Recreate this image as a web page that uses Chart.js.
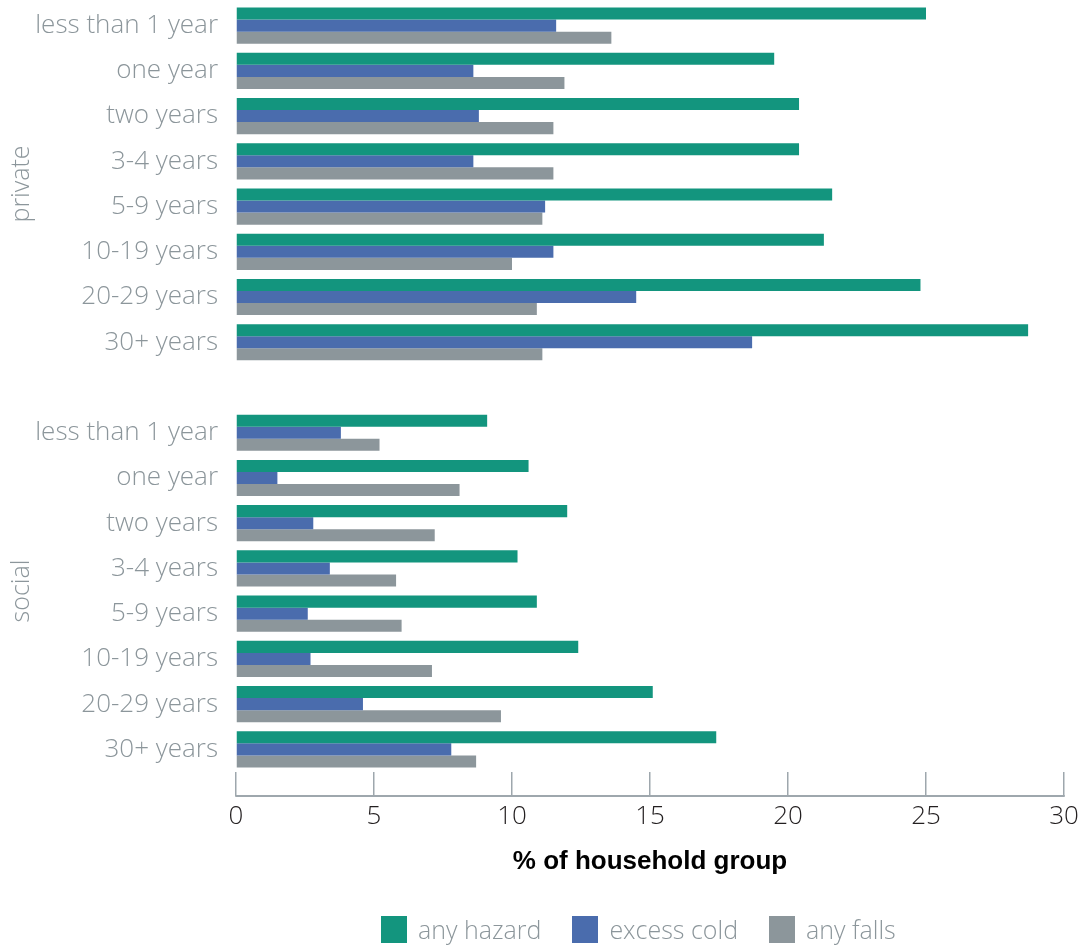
<!DOCTYPE html>
<html>
<head>
<meta charset="utf-8">
<script src="https://cdn.jsdelivr.net/npm/chart.js@4/dist/chart.umd.min.js"></script>
<style>
  html, body { margin: 0; padding: 0; background: #fff; }
  #wrap { position: relative; width: 1080px; height: 945px; }
  #legend {
    position: absolute; left: 381px; top: 912px;
    display: flex; align-items: center;
    font-family: 'Open Sans', Roboto, sans-serif; font-weight: 300;
    font-size: 25px; color: #8c969b;
  }
  #legend .item { display: flex; align-items: center; margin-right: 31px; }
  #legend .box { width: 26px; height: 27px; margin-right: 11px; }
</style>
</head>
<body>
<div id="wrap">
  <canvas id="chart" width="1080" height="945"></canvas>
  <div id="legend"></div>
</div>
<script>
const ageBands = ['less than 1 year', 'one year', 'two years', '3-4 years', '5-9 years', '10-19 years', '20-29 years', '30+ years'];
const groups = ['private', 'social'];

const privateHazard = [25.0, 19.5, 20.4, 20.4, 21.6, 21.3, 24.8, 28.7];
const privateCold = [11.6, 8.6, 8.8, 8.6, 11.2, 11.5, 14.5, 18.7];
const privateFalls = [13.6, 11.9, 11.5, 11.5, 11.1, 10.0, 10.9, 11.1];

const socialHazard = [9.1, 10.6, 12.0, 10.2, 10.9, 12.4, 15.1, 17.4];
const socialCold = [3.8, 1.5, 2.8, 3.4, 2.6, 2.7, 4.6, 7.8];
const socialFalls = [5.2, 8.1, 7.2, 5.8, 6.0, 7.1, 9.6, 8.7];

const xTicks = [0, 5, 10, 15, 20, 25, 30];
const seriesNames = ['any hazard', 'excess cold', 'any falls'];
const seriesColors = ['#13957e', '#4a6cad', '#8c969b'];

const labelGrey = '#8c969b';
const axisGrey = '#9ea7ad';
const fontFamily = "'Open Sans', Roboto, sans-serif";

// blank category between the two groups
const labels = [...ageBands, '', ...ageBands];
const joinGroups = (a, b) => [...a, null, ...b];

const datasets = [
  joinGroups(privateHazard, socialHazard),
  joinGroups(privateCold, socialCold),
  joinGroups(privateFalls, socialFalls),
].map((data, i) => ({
  label: seriesNames[i],
  data,
  backgroundColor: seriesColors[i],
  borderWidth: 0,
  categoryPercentage: 0.8,
  barPercentage: 1.0,
}));

// axis line under the tick marks + rotated group names
const extras = {
  id: 'extras',
  afterDraw(chart) {
    const { ctx, chartArea, scales } = chart;
    const x = scales.x;
    const y = scales.y;
    const tl = x.options.grid.tickLength;
    ctx.save();
    ctx.strokeStyle = axisGrey;
    ctx.lineWidth = 2;
    ctx.beginPath();
    ctx.moveTo(x.getPixelForValue(0) - 0.75, chartArea.bottom + tl);
    ctx.lineTo(x.getPixelForValue(30) + 0.75, chartArea.bottom + tl);
    ctx.stroke();

    ctx.fillStyle = labelGrey;
    ctx.font = `300 25px ${fontFamily}`;
    ctx.textAlign = 'center';
    ctx.textBaseline = 'middle';
    const n = ageBands.length;
    groups.forEach((g, gi) => {
      const first = gi * (n + 1);
      const mid = (y.getPixelForValue(first) + y.getPixelForValue(first + n - 1)) / 2;
      ctx.save();
      ctx.translate(22, mid);
      ctx.rotate(-Math.PI / 2);
      ctx.fillText(g, 0, 0);
      ctx.restore();
    });
    ctx.restore();
  },
};

new Chart(document.getElementById('chart'), {
  type: 'bar',
  data: { labels, datasets },
  options: {
    indexAxis: 'y',
    responsive: false,
    animation: false,
    devicePixelRatio: 1,
    layout: { padding: { top: 3, right: 16, bottom: 63, left: 0 } },
    plugins: {
      legend: { display: false },
      tooltip: { enabled: false },
    },
    scales: {
      x: {
        min: 0,
        max: 30,
        afterBuildTicks(scale) {
          scale.ticks = xTicks.map((v) => ({ value: v }));
        },
        afterFit(scale) {
          scale.height = 110;
          scale.paddingRight = 0;
          scale.paddingLeft = 0;
        },
        grid: {
          drawOnChartArea: false,
          drawTicks: true,
          tickLength: 24,
          color: axisGrey,
          lineWidth: 1.5,
        },
        border: { display: false },
        ticks: {
          color: '#231f20',
          padding: 5,
          font: { family: fontFamily, size: 26, weight: 300 },
        },
        title: {
          display: true,
          text: '% of household group',
          color: '#000',
          font: { family: "'Liberation Sans', Arial, sans-serif", size: 26, weight: 'bold' },
          padding: { top: 0, bottom: 5 },
        },
      },
      y: {
        afterFit(scale) {
          scale.width = 236;
          scale.paddingTop = 0;
          scale.paddingBottom = 0;
        },
        grid: { display: false, drawTicks: false },
        border: { display: false },
        ticks: {
          color: labelGrey,
          padding: 18,
          autoSkip: false,
          font: { family: fontFamily, size: 26, weight: 300 },
        },
      },
    },
  },
  plugins: [extras],
});

const legendEl = document.getElementById('legend');
legendEl.innerHTML = seriesNames.map((name, i) => `
  <div class="item"><span class="box" style="background:${seriesColors[i]}"></span><span>${name}</span></div>
`).join('');
</script>
</body>
</html>
